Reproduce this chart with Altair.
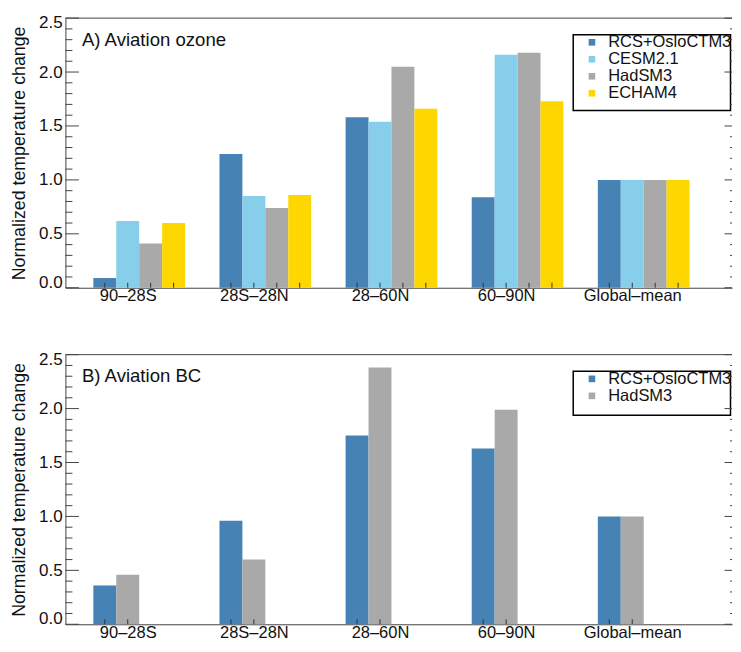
import altair as alt
import pandas as pd

# ---------------- data ----------------
regions = ["90–28S", "28S–28N", "28–60N", "60–90N", "Global–mean"]

models_a = ["RCS+OsloCTM3", "CESM2.1", "HadSM3", "ECHAM4"]
colors_a = ["#4682B4", "#87CEEB", "#A9A9A9", "#FFD700"]
rcs_a = [0.09, 1.24, 1.58, 0.84, 1.00]
cesm_a = [0.62, 0.85, 1.54, 2.16, 1.00]
had_a = [0.41, 0.74, 2.05, 2.18, 1.00]
echam_a = [0.60, 0.86, 1.66, 1.73, 1.00]

models_b = ["RCS+OsloCTM3", "HadSM3"]
colors_b = ["#4682B4", "#A9A9A9"]
rcs_b = [0.36, 0.96, 1.75, 1.63, 1.00]
had_b = [0.46, 0.60, 2.38, 1.99, 1.00]

y_ticks = [0.0, 0.1, 0.2, 0.3, 0.4, 0.5, 0.6, 0.7, 0.8, 0.9, 1.0, 1.1, 1.2,
           1.3, 1.4, 1.5, 1.6, 1.7, 1.8, 1.9, 2.0, 2.1, 2.2, 2.3, 2.4, 2.5]
y_major = [0.0, 0.5, 1.0, 1.5, 2.0, 2.5]

# ---------------- layout constants ----------------
W = 667.5
H = 270
FONT = "Liberation Sans"
BW = 0.7273 / 4          # width of one bar (group width 4/5.5)
XDOM = [0.415, 0.415 + W / 126.3]


def bar_table(models, series):
    rows = []
    for s, (m, vals) in enumerate(zip(models, series)):
        for k, (r, v) in enumerate(zip(regions, vals)):
            left = k + 1 - 2 * BW + s * BW
            rows.append(dict(region=r, model=m, value=v, zero=0.0,
                             x=left, x2=left + BW, xc=left + BW / 2))
    return pd.DataFrame(rows)


tick_df = pd.DataFrame({"v": y_ticks})
tick_df["major"] = tick_df["v"].isin(y_major)

label_pos = [k + 1 - BW / 2 for k in range(len(regions))]
label_expr = "[" + ",".join("'%s'" % r for r in regions) + "][round(datum.value) - 1]"

xs = alt.Scale(domain=XDOM, nice=False, zero=False)
ys = alt.Scale(domain=[0, 2.5], nice=False)
xaxis = alt.Axis(values=label_pos, labelExpr=label_expr, ticks=False,
                 grid=False, domainColor="#444", domainWidth=1,
                 labelFont=FONT, labelFontSize=16.5, labelColor="#111",
                 labelPadding=0, title=None)
yaxis = alt.Axis(values=y_major, format=".1f", ticks=False, grid=False,
                 domainColor="#444", domainWidth=1,
                 labelFont=FONT, labelFontSize=17, labelColor="#111",
                 labelPadding=3.3, labelFlush=True, labelFlushOffset=3.5,
                 title="Normalized temperature change",
                 titleFont=FONT, titleFontSize=17.8,
                 titleFontWeight="normal", titleColor="#111",
                 titlePadding=10.5)


def panel(models, colors, series, title, box_h):
    df = bar_table(models, series)

    bars = alt.Chart(df).mark_bar(strokeWidth=0).encode(
        x=alt.X("x:Q", scale=xs, axis=xaxis),
        x2="x2:Q",
        y=alt.Y("value:Q", scale=ys, axis=yaxis),
        y2="zero:Q",
        color=alt.Color("model:N", scale=alt.Scale(domain=models, range=colors),
                        legend=alt.Legend(orient="none", legendX=519, legendY=16,
                                          title=None, symbolType="square",
                                          symbolSize=44, symbolStrokeWidth=0,
                                          labelFont=FONT, labelFontSize=16.5,
                                          labelColor="#111", labelOffset=8,
                                          rowPadding=0, padding=0, offset=0,
                                          labelLimit=132)),
    )

    bar_ticks = alt.Chart(df).mark_rule(color="#333", strokeWidth=1).encode(
        x=alt.X("xc:Q", scale=xs, axis=xaxis),
        y=alt.value(H), y2=alt.value(H - 5),
    )

    major = tick_df[tick_df["major"]]
    minor = tick_df[~tick_df["major"]]

    def yt(data, x0, x1):
        return alt.Chart(data).mark_rule(color="#444", strokeWidth=1).encode(
            y=alt.Y("v:Q", scale=ys, axis=yaxis), x=alt.value(x0), x2=alt.value(x1))

    tl_major = yt(major, 0, 13.5)
    tl_minor = yt(minor, 0, 7)
    tr_major = yt(major, W - 7.5, W)
    tr_minor = yt(minor, W - 2, W)

    one = pd.DataFrame({"t": [title]})
    top_line = alt.Chart(one).mark_rule(color="#444", strokeWidth=1).encode(
        x=alt.value(0), x2=alt.value(W), y=alt.value(0))
    txt = alt.Chart(one).mark_text(align="left", baseline="alphabetic", font=FONT,
                                   fontSize=18.6, color="#111").encode(
        text="t:N", x=alt.value(16.5), y=alt.value(27.5))
    box = alt.Chart(one).mark_rect(fill="white", stroke="black", strokeWidth=1.5).encode(
        x=alt.value(508.5), x2=alt.value(W - 1.5), y=alt.value(16.6), y2=alt.value(16.6 + box_h))

    return alt.layer(box, bars, bar_ticks, tl_major, tl_minor, tr_major, tr_minor,
                     top_line, txt).properties(width=W, height=H)


top = panel(models_a, colors_a, [rcs_a, cesm_a, had_a, echam_a], "A) Aviation ozone", 76)
bottom = panel(models_b, colors_b, [rcs_b, had_b], "B) Aviation BC", 44)

chart = alt.vconcat(top, bottom, spacing=45).resolve_scale(
    color="independent").configure_view(stroke=None).properties(
    padding={"left": 1.5, "top": 4.7, "right": 0, "bottom": 0},
    background="white")

chart.save("out.html", embed_options={"renderer": "svg", "actions": False})
